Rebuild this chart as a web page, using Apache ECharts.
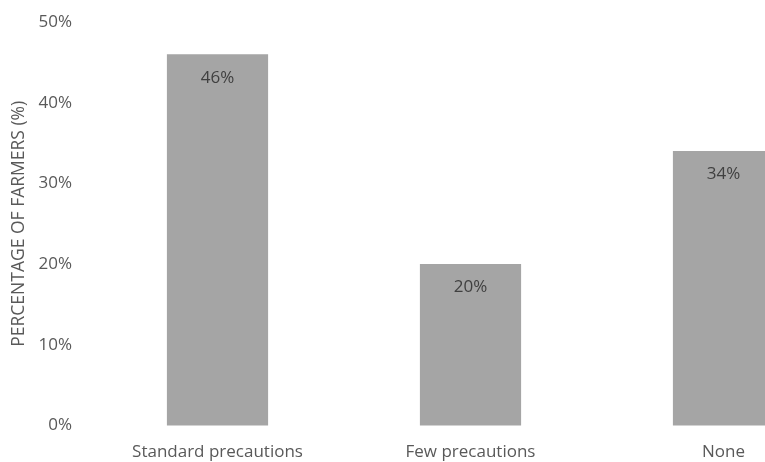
<!DOCTYPE html>
<html>
<head>
<meta charset="utf-8">
<script src="https://cdn.jsdelivr.net/npm/echarts@6/dist/echarts.min.js"></script>
<style>
  html, body { margin: 0; padding: 0; background: #fff; }
  #chart { width: 765px; height: 462px; }
</style>
</head>
<body>
<div id="chart"></div>
<script>
// Share of farmers by level of precaution taken
const categories = ['Standard precautions', 'Few precautions', 'None'];
const percentages = [46, 20, 34];
const yTicks = { min: 0, max: 50, interval: 10 };
const yAxisTitle = 'PERCENTAGE OF FARMERS (%)';

const font = '"Open Sans", "Noto Sans", sans-serif';

const chart = echarts.init(document.getElementById('chart'), null, { renderer: 'canvas' });
chart.setOption({
  animation: false,
  backgroundColor: '#ffffff',
  // the plot area runs past the right edge, so the last bar is cut off
  grid: { left: 91, top: 22, width: 759, bottom: 36.5, containLabel: false, outerBoundsMode: 'none' },
  xAxis: {
    type: 'category',
    data: categories,
    axisLine: { show: false },
    axisTick: { show: false },
    axisLabel: { color: '#595959', fontSize: 17, fontFamily: font, margin: 18, interval: 0 }
  },
  yAxis: {
    type: 'value',
    min: yTicks.min,
    max: yTicks.max,
    interval: yTicks.interval,
    name: yAxisTitle,
    nameLocation: 'middle',
    nameGap: 60,
    nameRotate: 90,
    nameTextStyle: { color: '#595959', fontSize: 17.5, fontFamily: font },
    axisLine: { show: false },
    axisTick: { show: false },
    splitLine: { show: false },
    axisLabel: { color: '#595959', fontSize: 17, fontFamily: font, margin: 19, formatter: '{value}%' }
  },
  series: [{
    type: 'bar',
    data: percentages,
    barWidth: '40%',
    itemStyle: { color: '#a5a5a5' },
    label: {
      show: true,
      position: 'insideTop',
      distance: 15,
      color: '#404040',
      fontSize: 17,
      fontFamily: font,
      formatter: '{c}%'
    }
  }]
});
</script>
</body>
</html>
